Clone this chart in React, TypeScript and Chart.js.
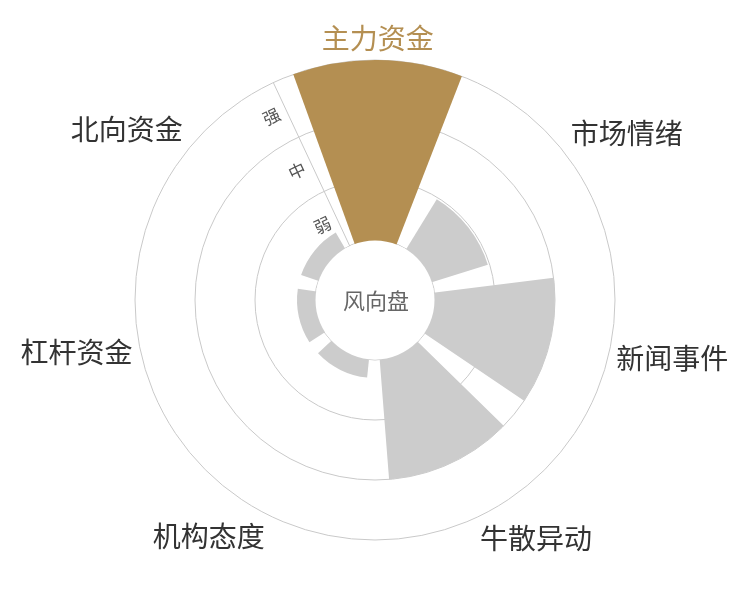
import { useEffect, useRef } from 'react';
import { Chart, registerables } from 'chart.js';

Chart.register(...registerables);

// ---- data ----
const categories = ['主力资金', '市场情绪', '新闻事件', '牛散异动', '机构态度', '杠杆资金', '北向资金'];
const strength = [3, 0.97, 2, 2, 0.3, 0.3, 0.3];
const levelLabels = ['弱', '中', '强'];
const highlightIndex = 0;
const centerTitle = '风向盘';

// ---- style / geometry constants ----
const SCALE_MIN = -1; // the central hole
const SCALE_MAX = 3;
const BAR_RATIO = 0.8;
const ROTATION = 0.65; // degrees
const GOLD = '#b48f52';
const GRAY = '#cccccc';
const GRID = '#c9c9c9';
const FONT = '"Noto Sans CJK SC", "Noto Sans", sans-serif';

const slice = 360 / categories.length;
const gapHalf = (slice * (1 - BAR_RATIO)) / 2;
const seg = slice * BAR_RATIO;

const values: number[] = [];
const angles: number[] = [];
const colors: string[] = [];
const labels: string[] = [];
categories.forEach((c, i) => {
  values.push(SCALE_MIN, strength[i], SCALE_MIN);
  angles.push(gapHalf, seg, gapHalf);
  colors.push('rgba(0,0,0,0)', i === highlightIndex ? GOLD : GRAY, 'rgba(0,0,0,0)');
  labels.push('', c, '');
});

const overlay = {
  id: 'overlay',
  afterDatasetsDraw(chart: any) {
    const ctx = chart.ctx as CanvasRenderingContext2D;
    const r = chart.scales.r as any;
    const xc = r.xCenter;
    const yc = r.yCenter;
    const hole = r.getDistanceFromCenterForValue(0);
    ctx.save();

    // hole
    ctx.beginPath();
    ctx.arc(xc, yc, hole - 0.5, 0, Math.PI * 2);
    ctx.fillStyle = '#ffffff';
    ctx.fill();

    // center title
    ctx.font = `22px ${FONT}`;
    ctx.fillStyle = '#666666';
    ctx.textAlign = 'center';
    ctx.textBaseline = 'middle';
    ctx.fillText(centerTitle, xc + 1, yc + 1);

    // level labels along the radial axis
    const a = (r.options.startAngle * Math.PI) / 180;
    ctx.font = `17px ${FONT}`;
    ctx.fillStyle = '#555555';
    levelLabels.forEach((t, i) => {
      const d = r.getDistanceFromCenterForValue(i + 0.5);
      const x = xc + Math.sin(a) * d - Math.cos(a) * 16;
      const y = yc - Math.cos(a) * d - Math.sin(a) * 16;
      ctx.save();
      ctx.translate(x, y);
      ctx.rotate(a);
      ctx.fillText(t, 0, 0);
      ctx.restore();
    });

    // category labels
    const meta = chart.getDatasetMeta(0);
    ctx.font = `28px ${FONT}`;
    categories.forEach((c, i) => {
      const arc = meta.data[i * 3 + 1] as any;
      const mid = (arc.startAngle + arc.endAngle) / 2;
      const rho = r.drawingArea + 8;
      const dx = Math.cos(mid) * rho;
      const dy = Math.sin(mid) * rho;
      ctx.textAlign = Math.abs(dx) / r.drawingArea < 0.3 ? 'center' : dx > 0 ? 'left' : 'right';
      ctx.textBaseline = Math.abs(dy) / r.drawingArea < 0.3 ? 'middle' : dy > 0 ? 'top' : 'bottom';
      ctx.fillStyle = i === highlightIndex ? GOLD : '#333333';
      ctx.fillText(c, xc + dx, yc + dy);
    });

    ctx.restore();
  },
};

export default function App() {
  const ref = useRef<HTMLCanvasElement | null>(null);
  useEffect(() => {
    if (!ref.current) return;
    const chart = new Chart(ref.current, {
      type: 'polarArea',
      data: {
        labels,
        datasets: [
          {
            data: values,
            backgroundColor: colors,
            borderWidth: 0,
            angle: (ctx: any) => angles[ctx.dataIndex],
          } as any,
        ],
      },
      options: {
        responsive: false,
        animation: false,
        events: [],
        layout: { padding: { top: 60, bottom: 60, left: 100, right: 100 } },
        plugins: { legend: { display: false }, tooltip: { enabled: false } },
        scales: {
          r: {
            min: SCALE_MIN,
            max: SCALE_MAX,
            startAngle: -slice / 2 + ROTATION,
            ticks: { display: false, stepSize: 1 },
            grid: {
              display: true,
              circular: true,
              color: (ctx: any) => (ctx.tick && ctx.tick.value === SCALE_MIN ? 'rgba(0,0,0,0)' : GRID),
              lineWidth: 1,
            },
            angleLines: {
              display: true,
              color: GRID,
              lineWidth: (ctx: any) => (ctx.index === 0 ? 1 : 0),
            },
            pointLabels: { display: false },
          },
        } as any,
      },
      plugins: [overlay],
    });
    return () => chart.destroy();
  }, []);
  return (
    <div style={{ position: 'fixed', left: 0, top: 0, width: 750, height: 600, background: '#fff' }}>
      <canvas ref={ref} width={750} height={600} style={{ display: 'block' }} />
    </div>
  );
}
